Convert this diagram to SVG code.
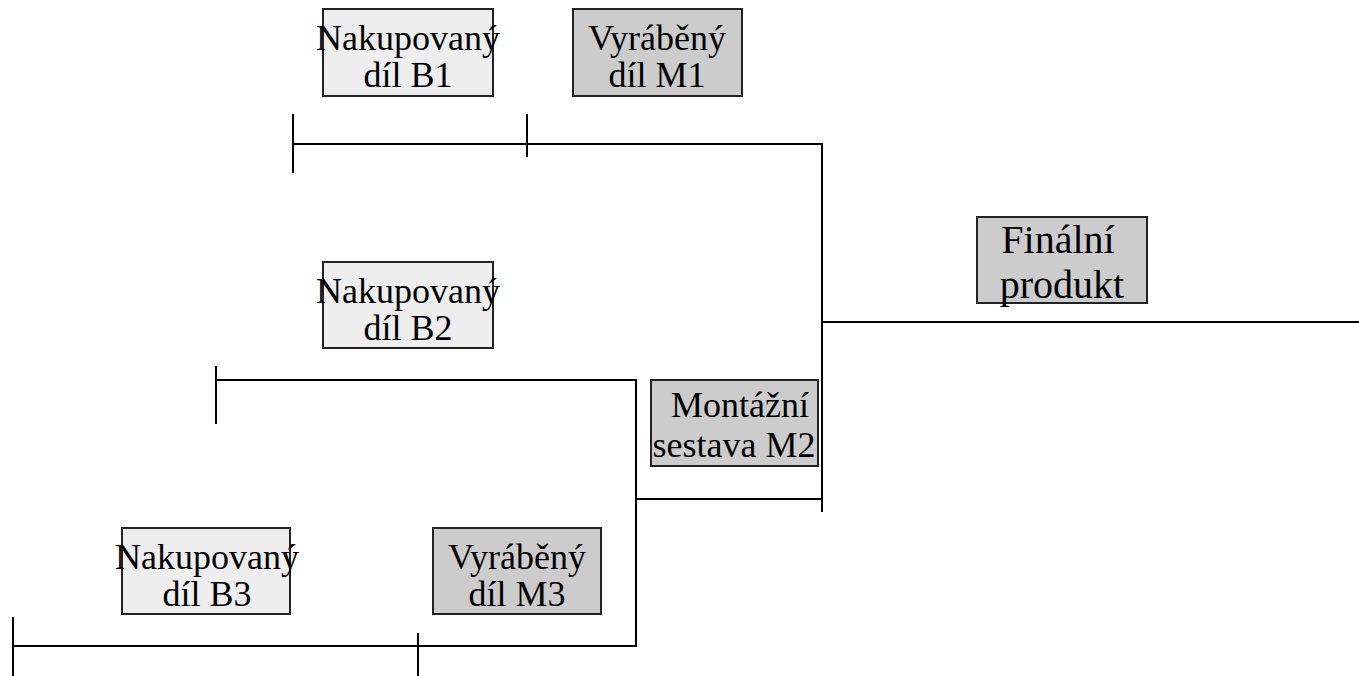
<svg xmlns="http://www.w3.org/2000/svg" width="1359" height="676" viewBox="0 0 1359 676">
<style>
.bought{fill:#eeeeee;stroke:#222;stroke-width:2}
.made{fill:#cccccc;stroke:#222;stroke-width:2}
.lbl{font-family:'Liberation Serif','Times New Roman',Times,serif;font-size:36px;fill:#000;text-anchor:middle}
.big{font-size:40px}
.conn line{stroke:#000;stroke-width:2;fill:none}
</style>
<rect width="1359" height="676" fill="#fff"/>
<g class="conn" id="connectors">
<line x1="293" y1="144" x2="822" y2="144"/>
<line x1="293" y1="114" x2="293" y2="173"/>
<line x1="527" y1="114" x2="527" y2="157"/>
<line x1="822" y1="143" x2="822" y2="512"/>
<line x1="822" y1="322" x2="1359" y2="322"/>
<line x1="216" y1="380" x2="636" y2="380"/>
<line x1="216" y1="366" x2="216" y2="424"/>
<line x1="636" y1="379" x2="636" y2="647"/>
<line x1="636" y1="499" x2="822" y2="499"/>
<line x1="13" y1="646" x2="636" y2="646"/>
<line x1="13" y1="617" x2="13" y2="676"/>
<line x1="418" y1="633" x2="418" y2="676"/>
</g>
<g id="B1">
<rect class="bought" x="323" y="9" width="170" height="87"/>
<text class="lbl" x="408" y="50">Nakupovaný</text>
<text class="lbl" x="408" y="87">díl B1</text>
</g>
<g id="M1">
<rect class="made" x="573" y="9" width="169" height="87"/>
<text class="lbl" x="657" y="50">Vyráběný</text>
<text class="lbl" x="657" y="87">díl M1</text>
</g>
<g id="final">
<rect class="made" x="977" y="217" width="170" height="86"/>
<text class="lbl big" x="1058" y="253">Finální</text>
<text class="lbl big" x="1062" y="298">produkt</text>
</g>
<g id="B2">
<rect class="bought" x="323" y="262" width="170" height="86"/>
<text class="lbl" x="408" y="303">Nakupovaný</text>
<text class="lbl" x="408" y="340">díl B2</text>
</g>
<g id="M2">
<rect class="made" x="651" y="380" width="167" height="86"/>
<text class="lbl" x="740" y="417">Montážní</text>
<text class="lbl" x="734" y="457">sestava M2</text>
</g>
<g id="B3">
<rect class="bought" x="122" y="528" width="168" height="86"/>
<text class="lbl" x="207" y="569">Nakupovaný</text>
<text class="lbl" x="207" y="606">díl B3</text>
</g>
<g id="M3">
<rect class="made" x="433" y="528" width="168" height="86"/>
<text class="lbl" x="517" y="569">Vyráběný</text>
<text class="lbl" x="517" y="606">díl M3</text>
</g>
</svg>
